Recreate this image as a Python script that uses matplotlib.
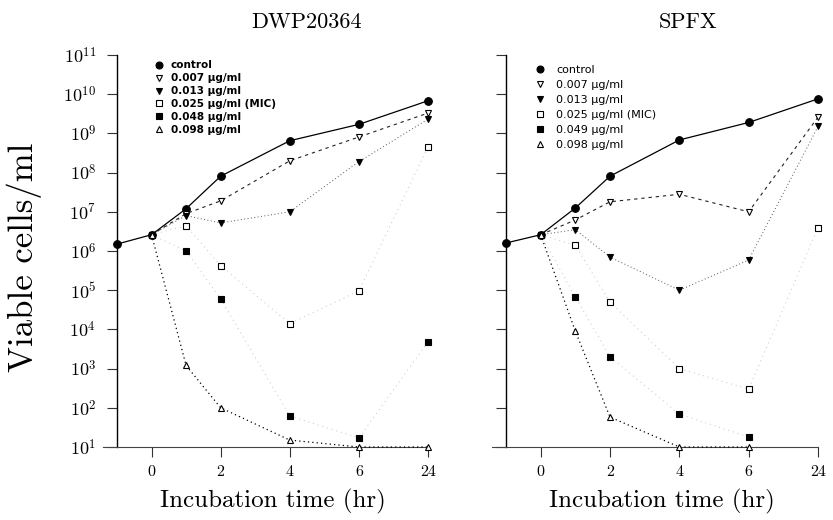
import numpy as np
import matplotlib
matplotlib.use("Agg")
import matplotlib.pyplot as plt
from matplotlib.lines import Line2D

nan = np.nan
hours = [-1, 0, 1, 2, 4, 6, 24]
xtick_hours = [0, 2, 4, 6, 24]
xtick_labels = ["0", "2", "4", "6", "24"]
ytick_exps = list(range(1, 12))

titles = ["DWP20364", "SPFX"]

labels_left = ["control", "0.007 μg/ml", "0.013 μg/ml", "0.025 μg/ml (MIC)",
               "0.048 μg/ml", "0.098 μg/ml"]
labels_right = ["control", "0.007 μg/ml", "0.013 μg/ml", "0.025 μg/ml (MIC)",
                "0.049 μg/ml", "0.098 μg/ml"]

# DWP20364
dwp_control = [1.5e6, 2.6e6, 1.2e7, 8.1e7, 6.5e8, 1.7e9, 6.8e9]
dwp_007 = [nan, 2.6e6, 9.0e6, 1.9e7, 2.0e8, 8.1e8, 3.3e9]
dwp_013 = [nan, 2.6e6, 8.0e6, 5.2e6, 1.0e7, 1.9e8, 2.3e9]
dwp_025 = [nan, 2.6e6, 4.4e6, 4.2e5, 1.4e4, 9.6e4, 4.5e8]
dwp_048 = [nan, 2.6e6, 1.0e6, 6.0e4, 62, 17, 4.8e3]
dwp_098 = [nan, 2.6e6, 1.2e3, 100, 15, 10, 10]

# SPFX
spf_control = [1.6e6, 2.6e6, 1.25e7, 8.1e7, 6.8e8, 1.9e9, 7.6e9]
spf_007 = [nan, 2.6e6, 6.2e6, 1.8e7, 2.8e7, 1.0e7, 2.6e9]
spf_013 = [nan, 2.6e6, 3.5e6, 7.0e5, 1.0e5, 5.9e5, 1.5e9]
spf_025 = [nan, 2.6e6, 1.4e6, 5.0e4, 1.0e3, 300, 3.9e6]
spf_049 = [nan, 2.6e6, 6.8e4, 2.0e3, 69, 18, nan]
spf_098 = [nan, 2.6e6, 9.0e3, 58, 10, 10, nan]

plt.rcParams['mathtext.fontset'] = 'cm'
plt.rcParams['axes.unicode_minus'] = False

styles = [
    dict(marker='o', mfc='black', mec='black', ms=5.5, ls='-', color='black', lw=0.9),
    dict(marker='v', mfc='white', mec='black', ms=5, ls=(0, (3, 3.5)), color='#222222', lw=0.8),
    dict(marker='v', mfc='black', mec='black', ms=5, ls=(0, (1, 2.5)), color='#555555', lw=0.7),
    dict(marker='s', mfc='white', mec='black', ms=4.5, ls=(0, (1, 4)), color='#c4c4c4', lw=0.7),
    dict(marker='s', mfc='black', mec='black', ms=4.5, ls=(0, (1, 4)), color='#c4c4c4', lw=0.7),
    dict(marker='^', mfc='white', mec='black', ms=5, ls=(0, (1, 2.5)), color='black', lw=0.9),
]


def fwd(h):
    h = np.asarray(h, dtype=float)
    return np.where(h <= 6, h / 2.0, 3.0 + (h - 6.0) / 18.0)


def inv(p):
    p = np.asarray(p, dtype=float)
    return np.where(p <= 3, 2.0 * p, 6.0 + 18.0 * (p - 3.0))


fig = plt.figure(figsize=(8.33, 5.2), dpi=100)
axL = fig.add_axes([117 / 833, 1 - 447 / 520, 311 / 833, 392 / 520])
axR = fig.add_axes([506 / 833, 1 - 447 / 520, 312 / 833, 392 / 520])

series_sets = [
    [dwp_control, dwp_007, dwp_013, dwp_025, dwp_048, dwp_098],
    [spf_control, spf_007, spf_013, spf_025, spf_049, spf_098],
]
legend_labels = [labels_left, labels_right]

for i, ax in enumerate([axL, axR]):
    ax.set_xscale('function', functions=(fwd, inv))
    ax.set_yscale('log')
    for vals, st in zip(series_sets[i], styles):
        ax.plot(hours, vals, marker=st['marker'], markerfacecolor=st['mfc'],
                markeredgecolor=st['mec'], markersize=st['ms'], markeredgewidth=0.8,
                linestyle=st['ls'], color=st['color'], linewidth=st['lw'],
                clip_on=False, zorder=3)
    ax.set_xlim(-1, 24)
    ax.set_ylim(10, 1e11)
    ax.set_xticks(xtick_hours)
    ax.set_xticklabels(xtick_labels, family='cmr10', fontsize=11.5)
    ax.xaxis.set_minor_locator(matplotlib.ticker.NullLocator())
    ax.set_yticks([10.0 ** e for e in ytick_exps])
    ax.yaxis.set_minor_locator(matplotlib.ticker.NullLocator())
    if i == 0:
        ax.set_yticklabels([r"$10^{%d}$" % e for e in ytick_exps], fontsize=13)
    else:
        ax.set_yticklabels([])
    for s in ['top', 'right']:
        ax.spines[s].set_visible(False)
    ax.spines['bottom'].set_bounds(-1.4, 24)
    ax.spines['bottom'].set_color('#444444')
    ax.spines['left'].set_linewidth(1.0)
    ax.tick_params(axis='both', direction='out', length=7, width=0.8, color='#333333')
    ax.tick_params(axis='x', pad=6)
    ax.tick_params(axis='y', pad=8)
    ax.set_xlabel("Incubation time (hr)", family='cmr10', fontsize=18, labelpad=7)

    handles = [Line2D([], [], linestyle='none', marker=st['marker'],
                      markerfacecolor=st['mfc'], markeredgecolor=st['mec'],
                      markersize=st['ms'] - 0.5, markeredgewidth=0.8)
               for st in styles]
    if i == 0:
        leg = ax.legend(handles, legend_labels[i], loc='upper left',
                        bbox_to_anchor=(0.095, 1.005), frameon=False,
                        prop=dict(family='DejaVu Sans', weight='bold', size=7.5),
                        handlelength=1.0, handletextpad=0.6, labelspacing=0.28,
                        borderpad=0.2)
    else:
        leg = ax.legend(handles, legend_labels[i], loc='upper left',
                        bbox_to_anchor=(0.065, 0.995), frameon=False,
                        prop=dict(family='DejaVu Sans', size=8),
                        handlelength=1.0, handletextpad=1.0, labelspacing=0.45,
                        borderpad=0.2)

fig.text(307 / 833, 1 - 22 / 520, titles[0], family='cmr10', fontsize=16,
         ha='center', va='center')
fig.text(688 / 833, 1 - 22 / 520, titles[1], family='cmr10', fontsize=16,
         ha='center', va='center')
fig.text(24 / 833, 1 - 257 / 520, "Viable cells/ml", family='cmr10', fontsize=25,
         rotation=90, ha='center', va='center')

fig.savefig("out.png", dpi=100)
